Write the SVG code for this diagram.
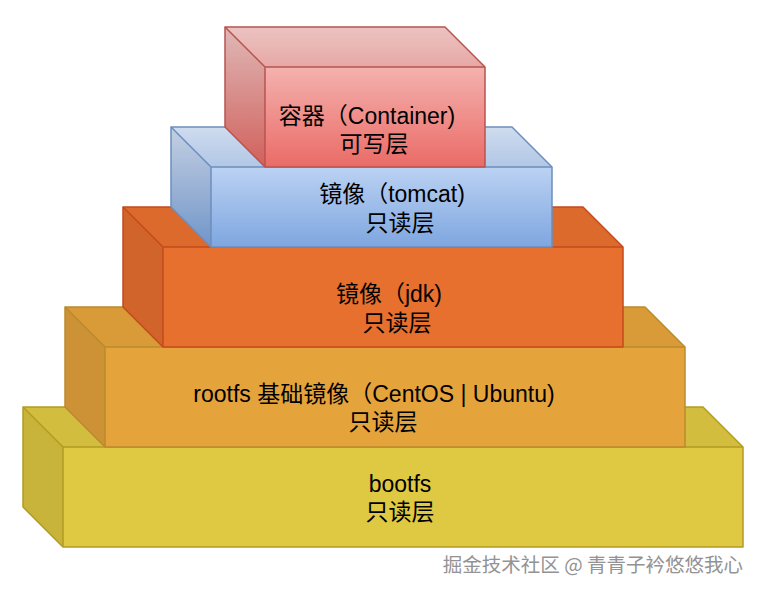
<svg xmlns="http://www.w3.org/2000/svg" width="760" height="592" viewBox="0 0 760 592">
<defs>
<linearGradient id="gRed" x1="0" y1="0" x2="0" y2="1"><stop offset="0" stop-color="#f8cecc"/><stop offset="1" stop-color="#ea6b66"/></linearGradient>
<linearGradient id="gBlue" x1="0" y1="0" x2="0" y2="1"><stop offset="0" stop-color="#dae8fc"/><stop offset="1" stop-color="#7ea6e0"/></linearGradient>
</defs>
<style>
.lbl{font-family:"Liberation Sans","Noto Sans CJK SC",sans-serif;font-size:23px;fill:#000;text-anchor:middle}
.top{fill:#000;fill-opacity:0.05;stroke:none}
.side{fill:#000;fill-opacity:0.1;stroke:none}
.edge{fill:none;stroke-width:1.5;stroke-linejoin:round}
.wm{font-family:"Noto Sans CJK SC","Liberation Sans",sans-serif;font-size:19.5px;fill:#939393;text-anchor:end}
</style>
<rect width="760" height="592" fill="#ffffff"/>
<g id="bootfs">
<polygon points="23,407 703,407 743,447 743,547 63,547 23,507" fill="#dfc842"/>
<polygon class="top" points="23,407 703,407 743,447 63,447"/>
<polygon class="side" points="23,407 63,447 63,547 23,507"/>
<polygon class="edge" stroke="#b39b22" points="23,407 703,407 743,447 743,547 63,547 23,507"/>
<path class="edge" stroke="#b39b22" d="M23,407 L63,447 L743,447 M63,447 L63,547"/>
<text class="lbl" x="400" y="492">bootfs</text>
<text class="lbl" x="400" y="520">只读层</text>
</g>
<g id="rootfs">
<polygon points="65,307 645,307 685,347 685,447 105,447 65,407" fill="#e5a33c"/>
<polygon class="top" points="65,307 645,307 685,347 105,347"/>
<polygon class="side" points="65,307 105,347 105,447 65,407"/>
<polygon class="edge" stroke="#bb8a2c" points="65,307 645,307 685,347 685,447 105,447 65,407"/>
<path class="edge" stroke="#bb8a2c" d="M65,307 L105,347 L685,347 M105,347 L105,447"/>
<text class="lbl" x="374" y="402">rootfs 基础镜像（CentOS | Ubuntu)</text>
<text class="lbl" x="383" y="430">只读层</text>
</g>
<g id="jdk">
<polygon points="123,207 583,207 623,247 623,347 163,347 123,307" fill="#e8702f"/>
<polygon class="top" points="123,207 583,207 623,247 163,247"/>
<polygon class="side" points="123,207 163,247 163,347 123,307"/>
<polygon class="edge" stroke="#c44a1c" points="123,207 583,207 623,247 623,347 163,347 123,307"/>
<path class="edge" stroke="#c44a1c" d="M123,207 L163,247 L623,247 M163,247 L163,347"/>
<text class="lbl" x="389" y="302">镜像（jdk)</text>
<text class="lbl" x="397" y="331">只读层</text>
</g>
<g id="tomcat">
<polygon points="171,127 512,127 552,167 552,247 211,247 171,207" fill="url(#gBlue)"/>
<polygon class="top" points="171,127 512,127 552,167 211,167"/>
<polygon class="side" points="171,127 211,167 211,247 171,207"/>
<polygon class="edge" stroke="#6c8ebf" points="171,127 512,127 552,167 552,247 211,247 171,207"/>
<path class="edge" stroke="#6c8ebf" d="M171,127 L211,167 L552,167 M211,167 L211,247"/>
<text class="lbl" x="392" y="202">镜像（tomcat)</text>
<text class="lbl" x="400" y="231">只读层</text>
</g>
<g id="container">
<polygon points="225,27 445,27 485,67 485,167 265,167 225,127" fill="url(#gRed)"/>
<polygon class="top" points="225,27 445,27 485,67 265,67"/>
<polygon class="side" points="225,27 265,67 265,167 225,127"/>
<polygon class="edge" stroke="#b85450" points="225,27 445,27 485,67 485,167 265,167 225,127"/>
<path class="edge" stroke="#b85450" d="M225,27 L265,67 L485,67 M265,67 L265,167"/>
<text class="lbl" x="367" y="124">容器（Container)</text>
<text class="lbl" x="374" y="152">可写层</text>
</g>
<g id="connectors"></g>
<text class="wm" x="743" y="572">掘金技术社区 @ 青青子衿悠悠我心</text>
</svg>
